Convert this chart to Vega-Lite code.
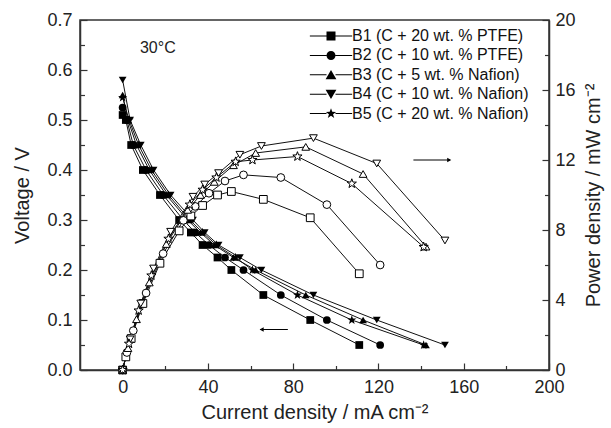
{
  "$schema": "https://vega.github.io/schema/vega-lite/v6.json",
  "width": 469,
  "height": 350,
  "autosize": {"type": "none"},
  "padding": {"left": 80, "top": 20, "right": 62, "bottom": 58},
  "background": "white",
  "config": {
    "font": "Liberation Sans",
    "view": {"stroke": "#333", "strokeWidth": 1.5},
    "axis": {"grid": false, "domainColor": "#333", "domainWidth": 1.5, "tickColor": "#333", "tickWidth": 1.2, "labelColor": "#222", "titleColor": "#222", "labelFont": "Liberation Sans", "titleFont": "Liberation Sans", "titleFontWeight": "normal", "labelFontSize": 18, "titleFontSize": 20, "labelFlush": false, "labelOverlap": false}
  },
  "datasets": {
    "d": [
      {"s": "B1 (C + 20 wt. % PTFE)", "I": 0, "V": 0.51, "P": 0},
      {"s": "B1 (C + 20 wt. % PTFE)", "I": 1.5, "V": 0.5, "P": 0.75},
      {"s": "B1 (C + 20 wt. % PTFE)", "I": 4, "V": 0.45, "P": 1.8},
      {"s": "B1 (C + 20 wt. % PTFE)", "I": 9.5, "V": 0.4, "P": 3.8},
      {"s": "B1 (C + 20 wt. % PTFE)", "I": 17.5, "V": 0.35, "P": 6.1},
      {"s": "B1 (C + 20 wt. % PTFE)", "I": 26.5, "V": 0.3, "P": 7.95},
      {"s": "B1 (C + 20 wt. % PTFE)", "I": 32, "V": 0.275, "P": 8.8},
      {"s": "B1 (C + 20 wt. % PTFE)", "I": 37.5, "V": 0.25, "P": 9.4},
      {"s": "B1 (C + 20 wt. % PTFE)", "I": 44.5, "V": 0.225, "P": 10.0},
      {"s": "B1 (C + 20 wt. % PTFE)", "I": 51, "V": 0.2, "P": 10.2},
      {"s": "B1 (C + 20 wt. % PTFE)", "I": 66, "V": 0.15, "P": 9.75},
      {"s": "B1 (C + 20 wt. % PTFE)", "I": 88, "V": 0.1, "P": 8.7},
      {"s": "B1 (C + 20 wt. % PTFE)", "I": 111, "V": 0.05, "P": 5.5},
      {"s": "B2 (C + 10 wt. % PTFE)", "I": 0, "V": 0.525, "P": 0},
      {"s": "B2 (C + 10 wt. % PTFE)", "I": 2, "V": 0.5, "P": 1.0},
      {"s": "B2 (C + 10 wt. % PTFE)", "I": 5, "V": 0.45, "P": 2.25},
      {"s": "B2 (C + 10 wt. % PTFE)", "I": 11, "V": 0.4, "P": 4.4},
      {"s": "B2 (C + 10 wt. % PTFE)", "I": 19, "V": 0.35, "P": 6.65},
      {"s": "B2 (C + 10 wt. % PTFE)", "I": 28.5, "V": 0.3, "P": 8.55},
      {"s": "B2 (C + 10 wt. % PTFE)", "I": 34, "V": 0.275, "P": 9.35},
      {"s": "B2 (C + 10 wt. % PTFE)", "I": 40.5, "V": 0.25, "P": 10.1},
      {"s": "B2 (C + 10 wt. % PTFE)", "I": 48, "V": 0.225, "P": 10.8},
      {"s": "B2 (C + 10 wt. % PTFE)", "I": 56.7, "V": 0.2, "P": 11.15},
      {"s": "B2 (C + 10 wt. % PTFE)", "I": 74.2, "V": 0.15, "P": 11.0},
      {"s": "B2 (C + 10 wt. % PTFE)", "I": 95.8, "V": 0.1, "P": 9.45},
      {"s": "B2 (C + 10 wt. % PTFE)", "I": 120.8, "V": 0.05, "P": 6.0},
      {"s": "B3 (C + 5 wt. % Nafion)", "I": 0, "V": 0.55, "P": 0},
      {"s": "B3 (C + 5 wt. % Nafion)", "I": 2.5, "V": 0.5, "P": 1.25},
      {"s": "B3 (C + 5 wt. % Nafion)", "I": 6.5, "V": 0.45, "P": 2.9},
      {"s": "B3 (C + 5 wt. % Nafion)", "I": 12.5, "V": 0.4, "P": 5.0},
      {"s": "B3 (C + 5 wt. % Nafion)", "I": 20.5, "V": 0.35, "P": 7.2},
      {"s": "B3 (C + 5 wt. % Nafion)", "I": 30.5, "V": 0.3, "P": 9.15},
      {"s": "B3 (C + 5 wt. % Nafion)", "I": 36.5, "V": 0.275, "P": 10.0},
      {"s": "B3 (C + 5 wt. % Nafion)", "I": 43, "V": 0.25, "P": 10.75},
      {"s": "B3 (C + 5 wt. % Nafion)", "I": 52, "V": 0.225, "P": 11.7},
      {"s": "B3 (C + 5 wt. % Nafion)", "I": 62.4, "V": 0.2, "P": 12.4},
      {"s": "B3 (C + 5 wt. % Nafion)", "I": 85.9, "V": 0.15, "P": 12.75},
      {"s": "B3 (C + 5 wt. % Nafion)", "I": 112.8, "V": 0.1, "P": 11.2},
      {"s": "B3 (C + 5 wt. % Nafion)", "I": 142.3, "V": 0.05, "P": 7.05},
      {"s": "B4 (C + 10 wt. % Nafion)", "I": 0, "V": 0.58, "P": 0},
      {"s": "B4 (C + 10 wt. % Nafion)", "I": 3.5, "V": 0.5, "P": 1.75},
      {"s": "B4 (C + 10 wt. % Nafion)", "I": 8.5, "V": 0.45, "P": 3.8},
      {"s": "B4 (C + 10 wt. % Nafion)", "I": 14.5, "V": 0.4, "P": 5.8},
      {"s": "B4 (C + 10 wt. % Nafion)", "I": 22.5, "V": 0.35, "P": 7.9},
      {"s": "B4 (C + 10 wt. % Nafion)", "I": 33, "V": 0.3, "P": 9.9},
      {"s": "B4 (C + 10 wt. % Nafion)", "I": 38.5, "V": 0.275, "P": 10.6},
      {"s": "B4 (C + 10 wt. % Nafion)", "I": 45, "V": 0.25, "P": 11.25},
      {"s": "B4 (C + 10 wt. % Nafion)", "I": 55, "V": 0.225, "P": 12.3},
      {"s": "B4 (C + 10 wt. % Nafion)", "I": 65.1, "V": 0.2, "P": 12.8},
      {"s": "B4 (C + 10 wt. % Nafion)", "I": 89.5, "V": 0.15, "P": 13.25},
      {"s": "B4 (C + 10 wt. % Nafion)", "I": 119.2, "V": 0.1, "P": 11.8},
      {"s": "B4 (C + 10 wt. % Nafion)", "I": 151.2, "V": 0.05, "P": 7.4},
      {"s": "B5 (C + 20 wt. % Nafion)", "I": 0, "V": 0.545, "P": 0},
      {"s": "B5 (C + 20 wt. % Nafion)", "I": 3, "V": 0.5, "P": 1.5},
      {"s": "B5 (C + 20 wt. % Nafion)", "I": 7.5, "V": 0.45, "P": 3.4},
      {"s": "B5 (C + 20 wt. % Nafion)", "I": 13.5, "V": 0.4, "P": 5.4},
      {"s": "B5 (C + 20 wt. % Nafion)", "I": 21.5, "V": 0.35, "P": 7.5},
      {"s": "B5 (C + 20 wt. % Nafion)", "I": 31.5, "V": 0.3, "P": 9.45},
      {"s": "B5 (C + 20 wt. % Nafion)", "I": 37.5, "V": 0.275, "P": 10.3},
      {"s": "B5 (C + 20 wt. % Nafion)", "I": 44, "V": 0.25, "P": 11.0},
      {"s": "B5 (C + 20 wt. % Nafion)", "I": 53, "V": 0.225, "P": 11.9},
      {"s": "B5 (C + 20 wt. % Nafion)", "I": 60.9, "V": 0.2, "P": 12.0},
      {"s": "B5 (C + 20 wt. % Nafion)", "I": 82, "V": 0.15, "P": 12.2},
      {"s": "B5 (C + 20 wt. % Nafion)", "I": 107.5, "V": 0.1, "P": 10.65},
      {"s": "B5 (C + 20 wt. % Nafion)", "I": 141.2, "V": 0.05, "P": 7.03}
    ]
  },
  "data": {"name": "d"},
  "layer": [
    {
      "encoding": {
        "x": {"field": "I", "type": "quantitative", "scale": {"domain": [-20, 200], "nice": false, "zero": false},
          "axis": {"title": "Current density / mA cm⁻²", "values": [0, 20, 40, 60, 80, 100, 120, 140, 160, 180, 200], "labelExpr": "datum.value % 40 === 0 ? datum.label : ''", "tickSize": -7, "tickDash": {"condition": {"test": "datum.value % 40 !== 0", "value": [4.5, 20]}, "value": [10, 0]}, "labelPadding": 15, "titlePadding": 6}},
        "y": {"field": "V", "type": "quantitative", "scale": {"domain": [0, 0.7], "nice": false},
          "axis": {"title": "Voltage / V", "values": [0, 0.05, 0.1, 0.15, 0.2, 0.25, 0.3, 0.35, 0.4, 0.45, 0.5, 0.55, 0.6, 0.65, 0.7], "labelExpr": "round(datum.value*100) % 10 === 0 ? format(datum.value, '.1f') : ''", "tickSize": -7, "tickDash": {"condition": {"test": "round(datum.value*100) % 10 !== 0", "value": [4.5, 20]}, "value": [10, 0]}, "labelPadding": 15, "titlePadding": 14}}
      },
      "layer": [
        {"mark": {"type": "line", "color": "#111", "strokeWidth": 1}, "encoding": {"detail": {"field": "s"}}},
        {"mark": {"type": "point", "filled": true, "color": "black", "size": 60, "opacity": 1},
          "encoding": {"shape": {"field": "s", "type": "nominal", "legend": null,
            "scale": {"range": ["square", "circle", "triangle-up", "triangle-down", "M0,-1.25L0.294,-0.405L1.189,-0.386L0.475,0.155L0.735,1.011L0,0.5L-0.735,1.011L-0.475,0.155L-1.189,-0.386L-0.294,-0.405Z"]}}}},
        {"data": {"values": [{"I": 64.5, "I2": 77.5, "V": 0.081}]}, "mark": {"type": "rule", "color": "black", "strokeWidth": 1}, "encoding": {"x2": {"field": "I2"}}},
        {"data": {"values": [{"I": 65.2, "V": 0.081}]}, "mark": {"type": "point", "shape": "triangle-left", "filled": true, "color": "black", "size": 22, "opacity": 1}, "encoding": {}},
        {"data": {"values": [{"I": 16.5, "V": 0.644, "t": "30°C"}]}, "mark": {"type": "text", "fontSize": 16, "color": "#222", "font": "Liberation Sans"}, "encoding": {"text": {"field": "t"}}}
      ]
    },
    {
      "encoding": {
        "x": {"field": "I", "type": "quantitative"},
        "y": {"field": "P", "type": "quantitative", "scale": {"domain": [0, 20], "nice": false},
          "axis": {"orient": "right", "title": "Power density / mW cm⁻²", "titleAngle": 270, "titleBaseline": "top", "values": [0, 2, 4, 6, 8, 10, 12, 14, 16, 18, 20], "labelExpr": "datum.value % 4 === 0 ? datum.label : ''", "tickSize": -7, "tickDash": {"condition": {"test": "datum.value % 4 !== 0", "value": [4.5, 20]}, "value": [10, 0]}, "labelPadding": 13, "titlePadding": 8}}
      },
      "layer": [
        {"mark": {"type": "line", "color": "#111", "strokeWidth": 1}, "encoding": {"detail": {"field": "s"}}},
        {"mark": {"type": "point", "filled": false, "fill": "white", "stroke": "black", "strokeWidth": 1, "size": 60, "opacity": 1, "fillOpacity": 1},
          "encoding": {"shape": {"field": "s", "type": "nominal", "legend": null,
            "scale": {"range": ["square", "circle", "triangle-up", "triangle-down", "M0,-1.25L0.294,-0.405L1.189,-0.386L0.475,0.155L0.735,1.011L0,0.5L-0.735,1.011L-0.475,0.155L-1.189,-0.386L-0.294,-0.405Z"]}}}},
        {"data": {"values": [{"I": 136.4, "I2": 153.6, "P": 12.0}]}, "mark": {"type": "rule", "color": "black", "strokeWidth": 1}, "encoding": {"x2": {"field": "I2"}}},
        {"data": {"values": [{"I": 153.2, "P": 12.0}]}, "mark": {"type": "point", "shape": "triangle-right", "filled": true, "color": "black", "size": 22, "opacity": 1}, "encoding": {}}
      ]
    },
    {
      "mark": {"type": "point", "filled": true, "fill": "black", "stroke": "black", "strokeWidth": 1, "opacity": 0},
      "encoding": {
        "x": {"field": "I", "type": "quantitative"},
        "y": {"field": "V", "type": "quantitative", "axis": null},
        "shape": {"field": "s", "type": "nominal",
          "scale": {"range": [
            "M-4.7,-0.11H-1V0.11H-4.7ZM1,-0.11H4.7V0.11H1ZM-1,-1H1V1H-1Z",
            "M-4.7,-0.11H-1V0.11H-4.7ZM1,-0.11H4.7V0.11H1ZM-1,0A1,1,0,1,1,1,0A1,1,0,1,1,-1,0Z",
            "M-4.7,-0.11H-1V0.11H-4.7ZM1,-0.11H4.7V0.11H1ZM0,-1.05L1.2,1H-1.2Z",
            "M-4.7,-0.11H-1V0.11H-4.7ZM1,-0.11H4.7V0.11H1ZM0,1.05L1.2,-1H-1.2Z",
            "M-4.7,-0.11H-1V0.11H-4.7ZM1,-0.11H4.7V0.11H1ZM0,-1.2L0.282,-0.389L1.141,-0.371L0.456,0.149L0.706,0.971L0,0.48L-0.706,0.971L-0.456,0.149L-1.141,-0.371L-0.282,-0.389Z"
          ]},
          "legend": {"orient": "none", "legendX": 233, "legendY": 8, "title": null, "symbolSize": 81, "symbolOffset": 10, "symbolFillColor": "black", "symbolStrokeColor": "black", "symbolStrokeWidth": 0.5, "symbolOpacity": 1, "labelFontSize": 16, "labelOffset": 13, "rowPadding": 3.4, "padding": 0, "labelColor": "#111", "labelLimit": 400, "labelFont": "Liberation Sans",
            "encode": {"symbols": {"update": {"stroke": {"value": "black"}, "strokeWidth": {"value": 0.5}, "fill": {"value": "black"}, "opacity": {"value": 1}, "strokeOpacity": {"value": 1}, "fillOpacity": {"value": 1}}}}}}
      }
    }
  ],
  "resolve": {"scale": {"y": "independent", "shape": "independent"}}
}
